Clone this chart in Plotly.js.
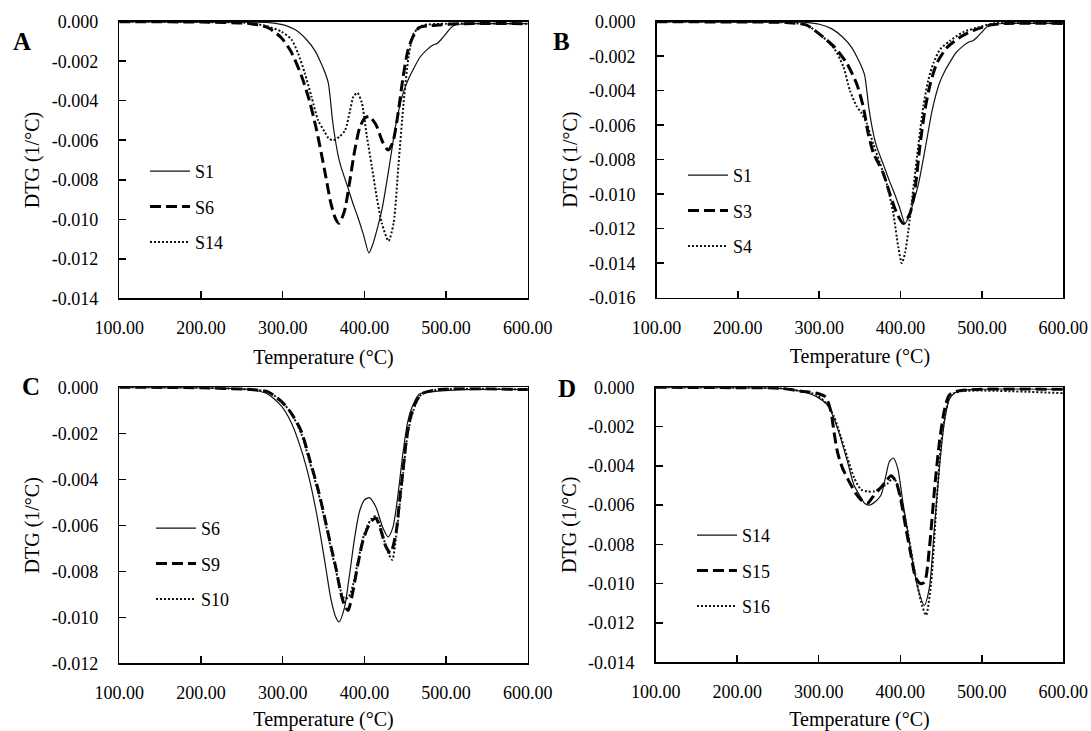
<!DOCTYPE html>
<html>
<head>
<meta charset="utf-8">
<script src="https://cdn.plot.ly/plotly-3.0.1.min.js"></script>
<style>html,body{margin:0;padding:0;background:#fff;}#chart{width:1091px;height:731px;}</style>
</head>
<body>
<div id="chart"></div>
<script>
// ---- Data (Temperature °C, DTG 1/°C) ----
const S1_T = [100, 200, 260, 280, 300, 315, 329, 340, 347, 352, 355.8, 358, 361, 364.5, 368, 371, 379, 386, 392, 399, 405.5, 410, 415.6, 422, 430.5, 439, 447.5, 455, 460, 468, 477, 484, 489, 494, 500, 506, 512, 530, 600];
const S1_Y = [0, -0.00002, -0.00002, -0.00003, -0.00015, -0.0004, -0.0009, -0.0015, -0.0021, -0.0026, -0.0031, -0.0038, -0.0050, -0.0060, -0.0068, -0.0073, -0.0083, -0.0092, -0.0099, -0.0108, -0.0117, -0.0113, -0.0105, -0.0094, -0.0073, -0.0051, -0.0036, -0.0028, -0.0024, -0.0018, -0.0014, -0.00118, -0.0011, -0.0009, -0.0006, -0.0003, -0.00015, -0.0001, -0.0001];

const S3_T = [100, 200, 260, 284.5, 305, 319.3, 333.7, 346, 354, 360.3, 366.5, 372.7, 378.8, 387, 395.3, 403.5, 411.7, 418, 424, 430, 436.5, 444.6, 457, 473, 489.7, 510, 530, 600];
const S3_Y = [0, -0.00002, -0.00005, -0.0002, -0.0009, -0.0015, -0.0024, -0.0036, -0.0049, -0.0065, -0.0076, -0.0082, -0.0088, -0.0100, -0.0111, -0.0117, -0.0111, -0.0096, -0.0071, -0.0051, -0.0036, -0.0024, -0.0015, -0.0009, -0.0005, -0.0002, -0.0001, -0.0001];

const S4_T = [100, 200, 260, 284.5, 305, 319, 329.6, 337.8, 346, 352, 358.4, 366.5, 374.7, 383, 391, 397.3, 401.5, 405.5, 409.6, 415.8, 422, 428, 434, 440.4, 448.6, 461, 477, 498, 514, 600];
const S4_Y = [0, -0.00002, -0.00005, -0.0002, -0.0009, -0.0016, -0.0026, -0.0040, -0.0049, -0.0053, -0.0059, -0.0071, -0.0082, -0.0094, -0.0111, -0.0131, -0.0140, -0.0134, -0.0121, -0.0096, -0.0071, -0.0049, -0.0034, -0.0024, -0.0016, -0.0011, -0.0006, -0.0003, -0.0001, -0.0001];

const S6_T = [100, 200, 261, 282, 298, 310, 322.6, 332.7, 341, 347, 353, 359, 365, 369, 375.5, 381.6, 387.8, 394, 400, 406, 414, 422.5, 429, 434.8, 441, 447, 453, 459, 467, 482, 520, 600];
const S6_Y = [0, -0.00002, -0.0001, -0.0003, -0.0008, -0.0015, -0.0027, -0.0040, -0.0054, -0.0066, -0.0079, -0.0092, -0.0100, -0.0102, -0.0096, -0.0082, -0.0066, -0.0054, -0.0049, -0.0048, -0.0052, -0.0061, -0.0065, -0.0061, -0.0047, -0.0029, -0.0015, -0.0008, -0.0003, -0.0002, -0.0001, -0.0001];

const S9_T = [100, 200, 261, 282, 298, 310, 322.6, 332.7, 343, 351, 359, 365.4, 371.5, 376, 380, 385.8, 392, 398, 404, 409, 414, 420, 426, 432, 438.8, 442.8, 447, 451, 455, 461, 469.4, 490, 600];
const S9_Y = [0, -0.00002, -0.0001, -0.0002, -0.0006, -0.0011, -0.0019, -0.0031, -0.0044, -0.0056, -0.0069, -0.0079, -0.0090, -0.0095, -0.0097, -0.0089, -0.0077, -0.0067, -0.0061, -0.0058, -0.0057, -0.0062, -0.0069, -0.0072, -0.0063, -0.0050, -0.0037, -0.0024, -0.0015, -0.0008, -0.0003, -0.0001, -0.0001];

const S10_T = [100, 200, 261, 282, 298, 310, 322.6, 332.7, 343, 351, 359, 365.4, 371.5, 376, 381, 386, 392, 398, 404, 409, 414, 420, 427, 434, 439.5, 443.5, 447.5, 451.5, 456, 462, 470, 490, 600];
const S10_Y = [0, -0.00002, -0.0001, -0.0002, -0.0006, -0.0011, -0.0020, -0.0032, -0.0045, -0.0057, -0.0070, -0.0080, -0.0089, -0.0092, -0.0091, -0.0086, -0.0076, -0.0066, -0.0060, -0.0057, -0.0056, -0.0061, -0.0070, -0.0075, -0.0063, -0.0050, -0.0037, -0.0024, -0.0015, -0.0008, -0.0003, -0.0001, -0.0001];

const S14_T = [100, 200, 253, 278, 298.4, 310.7, 318.8, 327, 335.3, 343.4, 351.7, 356, 362, 370, 376.3, 382.4, 386.5, 391.4, 396.8, 403, 409, 415.2, 421.4, 429.5, 435.7, 441.8, 448, 454, 460.3, 470.6, 500, 600];
const S14_Y = [0, -0.00002, -0.00005, -0.0002, -0.0005, -0.0009, -0.0016, -0.0026, -0.0038, -0.0050, -0.0056, -0.0059, -0.0060, -0.0058, -0.0055, -0.0045, -0.0038, -0.0036, -0.0041, -0.0058, -0.0073, -0.0089, -0.0102, -0.0111, -0.0102, -0.0072, -0.0041, -0.0018, -0.0006, -0.0002, -0.0001, -0.0001];

const S15_T = [100, 200, 253, 278, 298, 308.6, 314.8, 318.8, 323, 329, 337.3, 345.5, 353.7, 360, 366, 374, 382.4, 388.6, 394.7, 401, 407, 413, 419, 425.4, 430, 435.7, 441.8, 448, 454, 460, 470, 500, 600];
const S15_Y = [0, -0.00002, -0.00005, -0.0002, -0.0003, -0.0005, -0.0012, -0.0023, -0.0033, -0.0041, -0.0048, -0.0054, -0.0058, -0.0059, -0.0056, -0.0052, -0.0048, -0.0045, -0.0048, -0.0058, -0.0072, -0.0085, -0.0097, -0.0100, -0.0099, -0.0082, -0.0053, -0.0028, -0.0012, -0.0004, -0.0002, -0.0001, -0.0001];

const S16_T = [100, 200, 253, 278, 298, 310.7, 318.8, 327, 335.3, 343.4, 351.7, 360, 368, 376.3, 384.5, 391, 395, 401, 409, 417, 425.4, 431.6, 437.8, 444, 450, 456, 462, 475, 600];
const S16_Y = [0, -0.00002, -0.00005, -0.0002, -0.0004, -0.0009, -0.0015, -0.0025, -0.0036, -0.0046, -0.0052, -0.0053, -0.0053, -0.0051, -0.0049, -0.0046, -0.0048, -0.0057, -0.0073, -0.0092, -0.0109, -0.0116, -0.0100, -0.0062, -0.0029, -0.0012, -0.0004, -0.0002, -0.0003];

const xTickVals = [100, 200, 300, 400, 500, 600];
const xTickText = ['100.00', '200.00', '300.00', '400.00', '500.00', '600.00'];
const yTickVals14 = [0, -0.002, -0.004, -0.006, -0.008, -0.010, -0.012, -0.014];
const yTickText14 = ['0.000', '-0.002', '-0.004', '-0.006', '-0.008', '-0.010', '-0.012', '-0.014'];
const yTickVals16 = [0, -0.002, -0.004, -0.006, -0.008, -0.010, -0.012, -0.014, -0.016];
const yTickText16 = ['0.000', '-0.002', '-0.004', '-0.006', '-0.008', '-0.010', '-0.012', '-0.014', '-0.016'];
const yTickVals12 = [0, -0.002, -0.004, -0.006, -0.008, -0.010, -0.012];
const yTickText12 = ['0.000', '-0.002', '-0.004', '-0.006', '-0.008', '-0.010', '-0.012'];

const panelLabels = ['A', 'B', 'C', 'D'];
const xTitle = 'Temperature (°C)';
const yTitle = 'DTG (1/°C)';

// ---- Styles ----
const FONT = 'Liberation Serif, Times New Roman, serif';
const solid = {color: '#111', width: 1.2, dash: 'solid'};
const dashed = {color: '#000', width: 3, dash: '11px,5px'};
const dotted = {color: '#111', width: 2, dash: '2px,2px'};

function tr(name, T, Y, line, ax, leg, grp) {
  return {
    type: 'scatter', mode: 'lines', name: name, x: T, y: Y,
    line: Object.assign({shape: 'spline', smoothing: 0.7}, line),
    xaxis: 'x' + ax, yaxis: 'y' + ax, legend: leg, legendgroup: grp, showlegend: true,
    hoverinfo: 'skip'
  };
}

const data = [
  tr('S1', S1_T, S1_Y, solid, '', 'legend', 'a1'),
  tr('S6', S6_T, S6_Y, dashed, '', 'legend', 'a2'),
  tr('S14', S14_T, S14_Y, dotted, '', 'legend', 'a3'),
  tr('S1', S1_T, S1_Y, solid, '2', 'legend2', 'b1'),
  tr('S3', S3_T, S3_Y, dashed, '2', 'legend2', 'b2'),
  tr('S4', S4_T, S4_Y, dotted, '2', 'legend2', 'b3'),
  tr('S6', S6_T, S6_Y, solid, '3', 'legend3', 'c1'),
  tr('S9', S9_T, S9_Y, dashed, '3', 'legend3', 'c2'),
  tr('S10', S10_T, S10_Y, dotted, '3', 'legend3', 'c3'),
  tr('S14', S14_T, S14_Y, solid, '4', 'legend4', 'd1'),
  tr('S15', S15_T, S15_Y, dashed, '4', 'legend4', 'd2'),
  tr('S16', S16_T, S16_Y, dotted, '4', 'legend4', 'd3')
];

const W = 1091, H = 731;
function px(x) { return x / W; }
function py(y) { return 1 - y / H; }

function xax(dom, anchor) {
  return {
    domain: dom, anchor: anchor, range: [100, 600], tickvals: xTickVals, ticktext: xTickText,
    ticks: 'inside', ticklen: 7, tickwidth: 1.5, tickcolor: '#000',
    showline: true, mirror: true, linecolor: '#000', linewidth: 1.5,
    showgrid: false, zeroline: false, ticklabelstandoff: 13,
    tickfont: {family: FONT, size: 18, color: '#000'},
    title: {text: xTitle, font: {family: FONT, size: 20, color: '#000'}, standoff: 12}
  };
}
function yax(dom, anchor, lo, vals, text) {
  return {
    domain: dom, anchor: anchor, range: [lo, 0], tickvals: vals, ticktext: text,
    ticks: 'inside', ticklen: 7, tickwidth: 1.5, tickcolor: '#000',
    showline: true, mirror: true, linecolor: '#000', linewidth: 1.5,
    showgrid: false, zeroline: false, ticklabelstandoff: 16,
    tickfont: {family: FONT, size: 18, color: '#000'},
    title: {text: yTitle, font: {family: FONT, size: 20, color: '#000'}, standoff: 6}
  };
}

const xA = [px(119.3), px(527.8)], xB = [px(656.5), px(1063.3)], xD = [px(655.7), px(1063.3)];
const yTop = [py(298.3), py(21.7)], yTopB = [py(297.7), py(21.7)];
const yBot = [py(663.3), py(387.3)], yBotD = [py(662.3), py(387.3)];

function leg(x, y) {
  return {x: x, y: y, xanchor: 'left', yanchor: 'top', bgcolor: 'rgba(0,0,0,0)', borderwidth: 0,
    font: {family: FONT, size: 18, color: '#000'}, itemwidth: 40, tracegroupgap: 9, traceorder: 'grouped'};
}

const layout = {
  width: W, height: H, margin: {l: 0, r: 0, t: 0, b: 0},
  paper_bgcolor: '#fff', plot_bgcolor: '#fff', showlegend: true,
  xaxis: xax(xA, 'y'), yaxis: yax(yTop, 'x', -0.014, yTickVals14, yTickText14),
  xaxis2: xax(xB, 'y2'), yaxis2: yax(yTopB, 'x2', -0.016, yTickVals16, yTickText16),
  xaxis3: xax(xA, 'y3'), yaxis3: yax(yBot, 'x3', -0.012, yTickVals12, yTickText12),
  xaxis4: xax(xD, 'y4'), yaxis4: yax(yBotD, 'x4', -0.014, yTickVals14, yTickText14),
  legend: leg(px(145), py(153)),
  legend2: leg(px(683), py(157)),
  legend3: leg(px(151), py(510)),
  legend4: leg(px(692), py(517)),
  annotations: [
    {text: '<b>' + panelLabels[0] + '</b>', x: px(22), y: py(42)},
    {text: '<b>' + panelLabels[1] + '</b>', x: px(561.5), y: py(42)},
    {text: '<b>' + panelLabels[2] + '</b>', x: px(31), y: py(386)},
    {text: '<b>' + panelLabels[3] + '</b>', x: px(566.6), y: py(388)}
  ].map(a => Object.assign(a, {xref: 'paper', yref: 'paper', showarrow: false, xanchor: 'center', yanchor: 'middle',
    font: {family: FONT, size: 25, color: '#000'}}))
};

Plotly.newPlot('chart', data, layout, {staticPlot: true, displayModeBar: false});
</script>
</body>
</html>
